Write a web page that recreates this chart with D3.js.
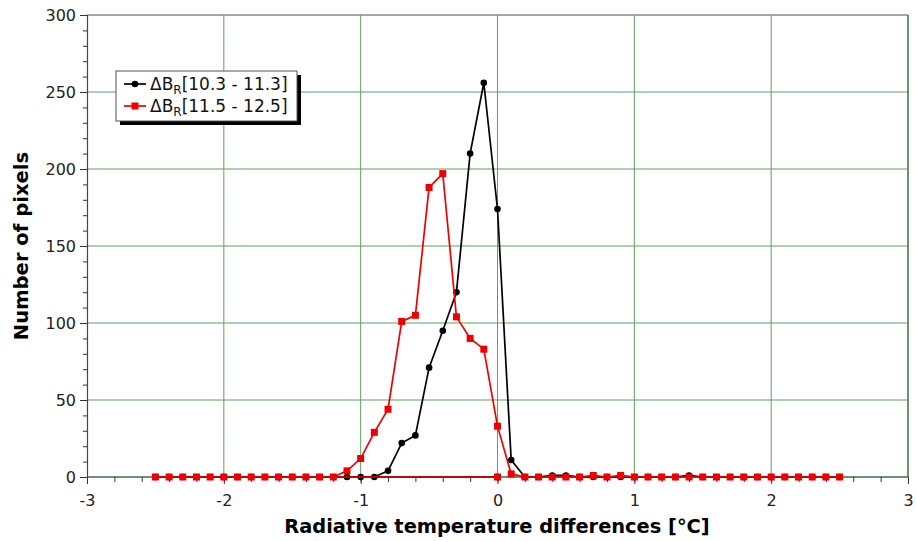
<!DOCTYPE html>
<html>
<head>
<meta charset="utf-8">
<script src="https://cdn.jsdelivr.net/npm/d3@7"></script>
<style>
  body { margin: 0; background: #fff; }
  svg { font-family: "DejaVu Sans", sans-serif; }
</style>
</head>
<body>
<svg id="chart" width="916" height="541"></svg>
<script>
// x positions of each sample (the first point of each series sits at 0)
const xs = [0,
  -2.5, -2.4, -2.3, -2.2, -2.1, -2.0, -1.9, -1.8, -1.7, -1.6,
  -1.5, -1.4, -1.3, -1.2, -1.1, -1.0, -0.9, -0.8, -0.7, -0.6,
  -0.5, -0.4, -0.3, -0.2, -0.1, 0.0, 0.1, 0.2, 0.3, 0.4,
  0.5, 0.6, 0.7, 0.8, 0.9, 1.0, 1.1, 1.2, 1.3, 1.4,
  1.5, 1.6, 1.7, 1.8, 1.9, 2.0, 2.1, 2.2, 2.3, 2.4, 2.5];

const blackVals = [0,
  0, 0, 0, 0, 0, 0, 0, 0, 0, 0,
  0, 0, 0, 0, 0, 0, 0, 4, 22, 27,
  71, 95, 120, 210, 256, 174, 11, 0, 0, 1,
  1, 0, 0, 0, 0, 0, 0, 0, 0, 1,
  0, 0, 0, 0, 0, 0, 0, 0, 0, 0, 0];

const redVals = [0,
  0, 0, 0, 0, 0, 0, 0, 0, 0, 0,
  0, 0, 0, 0, 4, 12, 29, 44, 101, 105,
  188, 197, 104, 90, 83, 33, 2, 0, 0, 0,
  0, 0, 1, 0, 1, 0, 0, 0, 0, 0,
  0, 0, 0, 0, 0, 0, 0, 0, 0, 0, 0];

const seriesNames = ["10.3 - 11.3", "11.5 - 12.5"];
const xTicks = [-3, -2, -1, 0, 1, 2, 3];
const yTicks = [0, 50, 100, 150, 200, 250, 300];

const svg = d3.select("#chart");
const mLeft = 87, mRight = 908, mTop = 15, mBottom = 477;

const x = d3.scaleLinear().domain([-3, 3]).range([mLeft, mRight]);
const y = d3.scaleLinear().domain([0, 300]).range([mBottom, mTop]);

const gridColor = "#5f9f5f";

// grid
svg.append("g").selectAll("line")
  .data(xTicks.slice(1, -1))
  .join("line")
  .attr("x1", d => x(d)).attr("x2", d => x(d))
  .attr("y1", mTop).attr("y2", mBottom)
  .attr("stroke", gridColor).attr("stroke-width", 1);

svg.append("g").selectAll("line")
  .data(yTicks.slice(1, -1))
  .join("line")
  .attr("x1", mLeft).attr("x2", mRight)
  .attr("y1", d => y(d)).attr("y2", d => y(d))
  .attr("stroke", gridColor).attr("stroke-width", 1);

// frame
svg.append("line").attr("x1", mLeft).attr("x2", mRight).attr("y1", mTop).attr("y2", mTop)
  .attr("stroke", "#888").attr("stroke-width", 1.5);
svg.append("line").attr("x1", mRight).attr("x2", mRight).attr("y1", mTop).attr("y2", mBottom)
  .attr("stroke", "#3c6e3c").attr("stroke-width", 1.5);
svg.append("line").attr("x1", mLeft).attr("x2", mRight).attr("y1", mBottom).attr("y2", mBottom)
  .attr("stroke", "#3c6e3c").attr("stroke-width", 1.5);

// axes
const xAxis = svg.append("g").attr("transform", `translate(0,${mBottom})`)
  .call(d3.axisBottom(x).tickValues(d3.range(-30, 31, 2).map(v => v / 10))
    .tickSize(5).tickFormat(""));
xAxis.select(".domain").remove();
xAxis.selectAll("line").attr("stroke", "#333");

const xMajor = svg.append("g").attr("transform", `translate(0,${mBottom})`)
  .call(d3.axisBottom(x).tickValues(xTicks).tickSize(7).tickPadding(11)
    .tickFormat(d => String(d)));
xMajor.select(".domain").remove();
xMajor.selectAll("line").attr("stroke", "#333");
xMajor.selectAll("text").attr("font-size", 16).attr("fill", "#222")
  .attr("font-family", "DejaVu Sans");

const yAxis = svg.append("g").attr("transform", `translate(${mLeft},0)`)
  .call(d3.axisLeft(y).tickValues(d3.range(0, 301, 10)).tickSize(4).tickFormat(""));
yAxis.select(".domain").attr("stroke", "#444").attr("stroke-width", 1.2);
yAxis.selectAll("line").attr("stroke", "#333");

const yMajor = svg.append("g").attr("transform", `translate(${mLeft},0)`)
  .call(d3.axisLeft(y).tickValues(yTicks).tickSize(7).tickPadding(4));
yMajor.select(".domain").remove();
yMajor.selectAll("line").attr("stroke", "#333");
yMajor.selectAll("text").attr("font-size", 16).attr("fill", "#222")
  .attr("font-family", "DejaVu Sans");

// series
const series = [
  { vals: blackVals, color: "#000", marker: "circle" },
  { vals: redVals, color: "#ee0000", marker: "square" }
];

const line = d3.line().x(d => x(d[0])).y(d => y(d[1]));

series.forEach(s => {
  const pts = xs.map((v, i) => [v, s.vals[i]]);
  svg.append("path").datum(pts)
    .attr("fill", "none").attr("stroke", s.color).attr("stroke-width", 1.7)
    .attr("d", line);
  const g = svg.append("g");
  if (s.marker === "circle") {
    g.selectAll("circle").data(pts).join("circle")
      .attr("cx", d => x(d[0])).attr("cy", d => y(d[1])).attr("r", 3.3)
      .attr("fill", s.color);
  } else {
    g.selectAll("rect").data(pts).join("rect")
      .attr("x", d => x(d[0]) - 3.5).attr("y", d => y(d[1]) - 3.5)
      .attr("width", 7).attr("height", 7)
      .attr("fill", s.color);
  }
});

// legend
const lg = svg.append("g").attr("transform", "translate(116,71)");
lg.append("rect").attr("x", 4).attr("y", 4).attr("width", 181).attr("height", 50).attr("fill", "#000");
lg.append("rect").attr("x", 0).attr("y", 0).attr("width", 181).attr("height", 50)
  .attr("fill", "#fff").attr("stroke", "#555").attr("stroke-width", 1);

series.forEach((s, i) => {
  const cy = 13 + i * 22;
  lg.append("line").attr("x1", 8).attr("x2", 30).attr("y1", cy).attr("y2", cy)
    .attr("stroke", s.color).attr("stroke-width", 1.7);
  if (s.marker === "circle") {
    lg.append("circle").attr("cx", 19).attr("cy", cy).attr("r", 3.3).attr("fill", s.color);
  } else {
    lg.append("rect").attr("x", 15.5).attr("y", cy - 3.5).attr("width", 7).attr("height", 7).attr("fill", s.color);
  }
  const t = lg.append("text").attr("x", 34).attr("y", cy + 6)
    .attr("font-size", 17).attr("fill", "#111");
  t.append("tspan").text("ΔB");
  t.append("tspan").attr("font-size", 12).attr("dy", 4).text("R");
  t.append("tspan").attr("dy", -4).text(`[${seriesNames[i]}]`);
});

// axis titles
svg.append("text").attr("x", 497).attr("y", 533)
  .attr("text-anchor", "middle").attr("font-size", 19.4).attr("font-weight", "bold")
  .text("Radiative temperature differences [°C]");

svg.append("text").attr("transform", `translate(28,${(mTop + mBottom) / 2}) rotate(-90)`)
  .attr("text-anchor", "middle").attr("font-size", 19.6).attr("font-weight", "bold")
  .text("Number of pixels");
</script>
</body>
</html>
